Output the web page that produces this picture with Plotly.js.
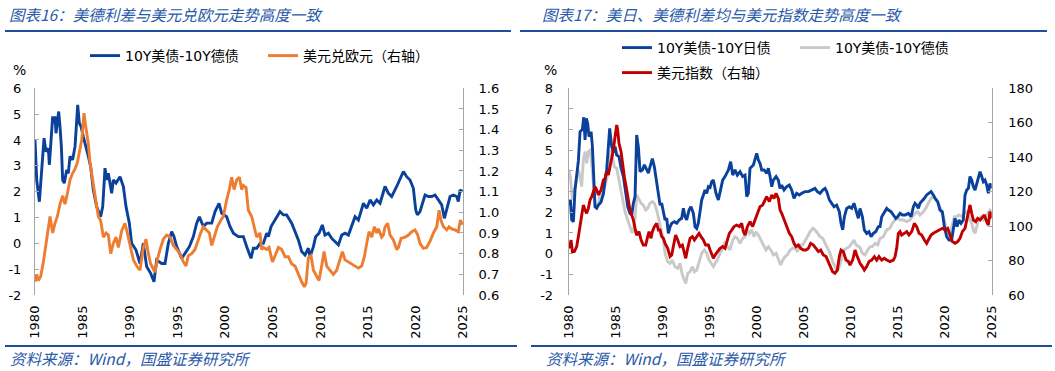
<!DOCTYPE html>
<html><head><meta charset="utf-8">
<script src="https://cdn.plot.ly/plotly-3.0.1.min.js"></script>
<style>html,body{margin:0;padding:0;background:#fff;} #chart{width:1055px;height:371px;}</style>
</head><body><div id="chart"></div>
<script>
// ---------- Left panel data ----------
const lYears = [1980.00,1980.18,1980.46,1980.81,1980.95,1981.16,1981.40,1981.51,1981.65,1981.75,1981.86,1982.00,1982.10,1982.21,1982.35,1982.49,1982.63,1982.77,1982.91,1983.08,1983.33,1983.50,1983.68,1983.96,1984.21,1984.49,1984.66,1984.84,1985.08,1985.36,1985.61,1985.85,1986.13,1986.48,1986.90,1987.12,1987.36,1987.54,1987.71,1988.06,1988.24,1988.52,1988.94,1989.29,1989.57,1989.92,1990.16,1990.62,1991.04,1991.39,1991.74,1992.16,1992.51,1992.79,1993.32,1993.67,1994.02,1994.37,1994.61,1994.90,1995.42,1995.77,1996.23,1996.65,1997.00,1997.28,1997.70,1998.05,1998.58,1998.93,1999.35,1999.63,2000.15,2000.50,2000.86,2001.38,2001.91,2002.26,2002.50,2002.71,2002.96,2003.31,2003.66,2004.01,2004.36,2004.54,2004.82,2005.24,2005.76,2006.11,2006.46,2006.99,2007.34,2007.69,2008.04,2008.39,2008.74,2008.92,2009.27,2009.51,2009.86,2010.21,2010.49,2010.85,2011.20,2011.55,2011.90,2012.25,2012.60,2012.95,2013.30,2013.65,2014.00,2014.53,2014.88,2015.23,2015.58,2015.93,2016.28,2016.80,2017.15,2017.50,2018.03,2018.38,2018.73,2019.08,2019.43,2019.78,2020.03,2020.20,2020.48,2021.01,2021.36,2021.71,2022.06,2022.41,2022.76,2023.04,2023.29,2023.64,2023.99,2024.34,2024.51,2024.69,2024.93];
const usDeSpread = [4.01,2.45,1.61,3.35,4.07,3.55,3.68,3.04,3.81,4.26,4.91,4.65,4.91,4.26,4.78,5.10,4.52,3.75,2.45,2.33,2.84,2.71,3.36,3.23,3.75,5.36,4.65,4.52,4.13,3.75,3.36,2.97,2.07,1.42,1.03,1.42,2.91,2.45,2.71,1.94,2.45,2.33,2.58,2.20,1.42,0.78,0.00,-0.26,-0.78,0.00,-0.90,-1.16,-1.49,-0.65,-0.78,-0.78,0.00,0.45,0.26,-0.13,-0.58,-0.39,-0.13,0.26,0.78,1.03,0.65,0.78,0.78,1.23,1.55,1.16,1.03,0.65,0.39,0.26,0.26,-0.13,-0.39,-0.58,-0.19,-0.19,0.00,0.00,0.39,0.26,0.65,0.90,1.23,1.10,1.10,0.78,0.45,0.13,-0.32,-0.45,-0.19,-0.52,-0.13,0.26,0.39,0.71,0.32,0.39,0.19,0.06,-0.06,0.32,0.39,0.32,0.65,1.03,0.90,1.55,1.36,1.68,1.49,1.68,1.55,2.20,1.94,1.81,2.20,2.52,2.78,2.58,2.45,2.13,1.29,1.10,1.23,1.87,1.81,1.81,1.87,1.68,1.49,0.97,1.29,1.81,1.87,1.81,1.62,2.07,2.00];

const eurYears = [1980.00,1980.18,1980.35,1980.60,1980.88,1981.16,1981.40,1981.58,1981.86,1982.10,1982.35,1982.63,1982.91,1983.15,1983.40,1983.68,1983.96,1984.21,1984.45,1984.73,1984.91,1985.01,1985.15,1985.29,1985.43,1985.61,1985.78,1986.06,1986.31,1986.66,1986.90,1987.19,1987.47,1987.71,1987.96,1988.24,1988.52,1988.76,1989.11,1989.46,1989.71,1989.99,1990.34,1990.69,1991.04,1991.39,1991.67,1991.92,1992.16,1992.62,1992.86,1993.14,1993.49,1993.84,1994.20,1994.55,1994.90,1995.25,1995.60,1995.88,1996.12,1996.47,1996.82,1997.17,1997.42,1997.70,1997.98,1998.33,1998.58,1998.82,1999.17,1999.52,1999.80,2000.15,2000.43,2000.68,2000.93,2001.21,2001.49,2001.73,2001.91,2002.19,2002.43,2002.78,2003.06,2003.31,2003.66,2003.83,2004.01,2004.36,2004.61,2004.96,2005.24,2005.59,2005.94,2006.29,2006.64,2006.99,2007.34,2007.69,2008.04,2008.32,2008.50,2008.74,2009.02,2009.27,2009.62,2009.86,2010.14,2010.39,2010.67,2011.02,2011.37,2011.72,2012.07,2012.32,2012.60,2012.95,2013.30,2013.65,2014.00,2014.35,2014.63,2014.88,2015.12,2015.40,2015.68,2015.93,2016.10,2016.45,2016.63,2016.80,2017.08,2017.33,2017.68,2018.03,2018.21,2018.49,2018.91,2019.26,2019.61,2019.96,2020.24,2020.48,2020.83,2021.18,2021.53,2021.89,2022.24,2022.48,2022.69,2022.94,2023.29,2023.53,2023.81,2024.16,2024.51,2024.72,2024.93];
const eurPerUsd = [0.664,0.70,0.67,0.69,0.76,0.85,0.947,0.98,0.90,0.947,0.98,1.04,1.08,1.04,1.09,1.157,1.19,1.21,1.24,1.30,1.35,1.40,1.48,1.43,1.38,1.33,1.24,1.157,1.06,0.98,0.96,0.88,0.90,0.89,0.80,0.85,0.88,0.83,0.91,0.947,0.90,0.834,0.77,0.74,0.72,0.83,0.87,0.80,0.75,0.71,0.77,0.82,0.87,0.89,0.88,0.84,0.82,0.80,0.76,0.74,0.79,0.80,0.82,0.87,0.90,0.93,0.915,0.90,0.84,0.88,0.93,0.96,0.98,1.06,1.11,1.17,1.11,1.157,1.17,1.11,1.13,1.12,1.01,0.98,0.93,0.88,0.90,0.82,0.83,0.82,0.83,0.76,0.79,0.83,0.82,0.785,0.785,0.75,0.74,0.70,0.664,0.64,0.656,0.78,0.79,0.72,0.69,0.67,0.74,0.81,0.74,0.72,0.70,0.72,0.77,0.81,0.77,0.76,0.75,0.74,0.73,0.74,0.785,0.85,0.906,0.88,0.93,0.90,0.92,0.88,0.89,0.93,0.947,0.89,0.866,0.82,0.83,0.874,0.88,0.89,0.906,0.915,0.89,0.85,0.826,0.83,0.86,0.90,0.93,1.01,0.96,0.93,0.915,0.93,0.92,0.915,0.906,0.963,0.94];

// ---------- Right panel data ----------
const jpYears = [1980.00,1980.18,1980.32,1980.50,1980.67,1980.85,1981.03,1981.21,1981.45,1981.60,1981.74,1981.88,1982.02,1982.16,1982.38,1982.52,1982.66,1982.80,1982.98,1983.16,1983.44,1983.69,1983.87,1984.04,1984.22,1984.36,1984.57,1984.75,1984.93,1985.11,1985.35,1985.57,1985.82,1985.99,1986.28,1986.52,1986.70,1986.88,1987.06,1987.23,1987.41,1987.59,1987.84,1988.05,1988.30,1988.48,1988.65,1988.90,1989.11,1989.33,1989.54,1989.72,1989.89,1990.07,1990.25,1990.43,1990.60,1990.78,1990.96,1991.24,1991.49,1991.74,1992.02,1992.20,1992.38,1992.55,1992.80,1993.01,1993.26,1993.44,1993.62,1993.79,1993.97,1994.15,1994.33,1994.50,1994.68,1994.86,1995.04,1995.21,1995.39,1995.67,1995.92,1996.10,1996.38,1996.63,1996.99,1997.23,1997.45,1997.69,1997.94,1998.23,1998.51,1998.76,1998.94,1999.11,1999.29,1999.65,2000.00,2000.18,2000.35,2000.53,2000.78,2001.06,2001.24,2001.42,2001.60,2001.77,2002.06,2002.30,2002.48,2002.66,2002.91,2003.19,2003.47,2003.72,2003.97,2004.25,2004.54,2004.79,2005.14,2005.50,2005.85,2006.20,2006.45,2006.74,2007.02,2007.27,2007.45,2007.73,2007.98,2008.23,2008.51,2008.79,2008.97,2009.15,2009.33,2009.57,2009.86,2010.11,2010.35,2010.64,2010.81,2010.99,2011.24,2011.45,2011.70,2011.95,2012.16,2012.41,2012.66,2012.94,2013.12,2013.30,2013.58,2013.83,2014.01,2014.29,2014.54,2014.79,2015.00,2015.25,2015.50,2015.78,2016.13,2016.42,2016.67,2016.84,2017.02,2017.20,2017.37,2017.55,2017.84,2018.08,2018.33,2018.55,2018.79,2018.97,2019.25,2019.50,2019.75,2019.96,2020.21,2020.46,2020.74,2020.92,2021.10,2021.31,2021.52,2021.74,2021.98,2022.16,2022.34,2022.52,2022.69,2022.87,2023.05,2023.23,2023.40,2023.58,2023.76,2023.94,2024.11,2024.29,2024.47,2024.64,2024.82,2025.00];
const usJpSpread = [2.35,2.60,1.63,1.55,3.08,3.90,4.50,5.90,6.00,6.60,5.50,6.55,6.30,5.66,5.90,5.20,3.90,2.27,2.20,2.35,2.50,2.90,3.56,4.05,5.18,6.06,5.20,4.90,5.18,4.77,4.70,4.13,3.73,3.08,2.27,1.95,1.87,2.44,2.76,5.74,5.18,3.97,4.05,4.30,4.05,3.90,4.20,4.60,4.20,3.56,3.08,2.35,2.44,2.11,1.63,1.71,0.98,1.30,1.47,1.55,1.47,1.63,1.71,2.20,1.79,1.63,2.11,2.27,1.95,1.30,1.22,1.47,2.11,2.60,2.84,3.08,2.92,3.24,3.20,3.48,3.56,2.92,2.60,2.92,3.56,3.73,4.05,4.45,3.80,4.05,3.80,3.97,3.73,3.80,2.76,2.92,4.13,4.29,4.85,4.53,4.37,4.05,4.05,3.89,4.13,3.73,3.24,3.56,3.73,3.56,3.16,3.32,3.08,3.24,3.32,3.08,2.68,2.92,2.84,2.92,3.00,3.00,3.08,3.16,3.00,2.92,3.08,3.16,3.00,2.60,2.43,2.27,2.35,2.03,1.47,1.15,1.79,2.19,2.27,2.19,2.44,2.03,1.71,2.19,1.79,1.15,0.98,1.06,0.82,0.98,1.06,1.31,1.31,1.79,2.03,2.19,2.11,2.03,1.87,1.71,1.79,1.95,1.87,1.87,1.95,1.79,2.27,2.44,2.35,2.19,2.44,2.52,2.68,2.84,2.92,3.00,2.84,2.68,2.52,2.11,2.03,1.31,0.82,0.66,0.66,1.15,1.71,1.31,1.63,1.47,1.63,2.84,3.08,3.16,3.73,3.56,3.24,3.08,3.40,3.65,3.97,3.73,3.48,3.56,3.32,2.92,3.40,3.16];

const deYears = [1980.00,1980.18,1980.39,1980.60,1980.85,1981.03,1981.21,1981.38,1981.56,1981.74,1981.91,1982.09,1982.27,1982.45,1982.62,1982.80,1982.98,1983.16,1983.33,1983.58,1983.79,1984.04,1984.29,1984.50,1984.68,1984.86,1985.11,1985.35,1985.57,1985.82,1985.99,1986.28,1986.52,1986.70,1986.88,1987.06,1987.23,1987.41,1987.70,1987.94,1988.19,1988.40,1988.65,1988.90,1989.11,1989.36,1989.61,1989.82,1990.07,1990.25,1990.53,1990.78,1991.03,1991.31,1991.60,1991.84,1992.09,1992.30,1992.45,1992.66,1992.91,1993.16,1993.37,1993.62,1993.87,1994.15,1994.43,1994.68,1994.93,1995.21,1995.39,1995.57,1995.81,1996.10,1996.38,1996.63,1996.88,1997.16,1997.45,1997.69,1997.94,1998.23,1998.51,1998.76,1999.01,1999.22,1999.47,1999.72,1999.93,2000.18,2000.42,2000.71,2000.99,2001.24,2001.49,2001.77,2002.06,2002.30,2002.55,2002.77,2003.01,2003.26,2003.55,2003.83,2004.08,2004.33,2004.61,2004.89,2005.14,2005.39,2005.67,2005.96,2006.20,2006.45,2006.74,2007.02,2007.27,2007.52,2007.80,2008.08,2008.33,2008.58,2008.79,2009.04,2009.29,2009.57,2009.86,2010.11,2010.35,2010.57,2010.81,2010.99,2011.24,2011.52,2011.81,2012.06,2012.30,2012.59,2012.87,2013.12,2013.47,2013.83,2014.18,2014.43,2014.72,2015.00,2015.25,2015.60,2015.96,2016.31,2016.56,2016.84,2017.13,2017.37,2017.73,2017.98,2018.26,2018.55,2018.79,2019.04,2019.33,2019.61,2019.86,2020.11,2020.39,2020.57,2020.74,2021.03,2021.28,2021.52,2021.81,2022.09,2022.34,2022.52,2022.69,2022.87,2023.05,2023.23,2023.40,2023.58,2023.86,2024.11,2024.36,2024.64,2024.82,2025.00];
const usDeSpread2 = [4.05,3.73,2.60,3.08,3.56,4.05,3.73,3.24,4.53,4.94,4.37,4.94,5.00,4.37,3.40,2.44,2.27,2.35,2.92,2.76,3.16,3.56,4.05,5.00,4.53,4.20,4.13,3.56,3.08,2.60,2.03,1.63,1.31,1.06,1.06,1.71,2.84,2.68,2.44,2.35,2.11,2.19,2.44,2.52,2.44,2.11,1.63,1.15,0.66,0.02,-0.39,-0.47,-0.31,-0.63,-0.71,-0.47,-1.03,-1.27,-1.44,-0.95,-0.87,-0.63,-0.87,-0.79,-0.39,0.02,0.18,0.02,-0.31,-0.47,-0.63,-0.47,-0.31,0.02,0.26,0.58,0.34,0.18,0.66,0.82,0.74,0.50,0.74,0.82,1.15,0.98,1.15,0.82,1.06,0.90,0.66,0.42,0.18,0.34,0.18,-0.06,0.02,-0.31,-0.55,-0.31,-0.15,-0.06,0.18,0.26,0.26,0.10,0.42,0.42,0.66,0.82,1.06,1.23,1.15,0.98,0.82,0.74,0.50,0.34,0.02,-0.39,-0.63,-0.87,-0.63,-0.15,0.18,0.26,0.34,0.50,0.66,0.42,0.34,0.30,0.02,-0.06,0.18,0.34,0.34,0.50,0.42,0.74,0.82,1.15,1.23,1.47,1.63,1.71,1.63,1.63,1.55,1.63,1.79,1.95,2.03,1.87,2.03,2.19,2.44,2.68,2.76,2.60,2.44,2.11,1.79,1.31,0.82,0.98,1.31,1.79,1.79,1.87,1.79,1.95,2.03,1.79,1.63,1.47,1.15,0.98,1.31,1.63,1.79,1.63,1.79,1.95,2.11,2.03];

const dxyYears = [1980.00,1980.14,1980.25,1980.39,1980.60,1980.85,1981.03,1981.21,1981.38,1981.56,1981.74,1981.91,1982.09,1982.27,1982.45,1982.62,1982.80,1982.98,1983.16,1983.44,1983.69,1983.87,1984.04,1984.22,1984.40,1984.57,1984.75,1984.93,1985.11,1985.21,1985.35,1985.57,1985.71,1985.92,1986.17,1986.35,1986.52,1986.70,1986.88,1987.06,1987.23,1987.48,1987.70,1987.94,1988.19,1988.40,1988.55,1988.76,1988.90,1989.11,1989.36,1989.54,1989.72,1989.89,1990.07,1990.25,1990.53,1990.78,1990.96,1991.13,1991.38,1991.60,1991.84,1992.09,1992.30,1992.45,1992.66,1992.91,1993.16,1993.37,1993.62,1993.87,1994.08,1994.33,1994.57,1994.86,1995.04,1995.21,1995.39,1995.57,1995.81,1996.10,1996.38,1996.63,1996.88,1997.09,1997.34,1997.59,1997.87,1998.16,1998.40,1998.58,1998.76,1999.01,1999.29,1999.57,1999.82,2000.07,2000.35,2000.64,2000.89,2001.06,2001.35,2001.60,2001.84,2002.06,2002.30,2002.48,2002.66,2002.91,2003.19,2003.47,2003.72,2003.97,2004.18,2004.43,2004.68,2004.96,2005.25,2005.50,2005.74,2006.03,2006.31,2006.56,2006.81,2007.09,2007.38,2007.62,2007.87,2008.08,2008.33,2008.58,2008.79,2008.97,2009.22,2009.50,2009.75,2009.93,2010.21,2010.46,2010.64,2010.81,2010.99,2011.24,2011.45,2011.70,2011.95,2012.23,2012.52,2012.77,2013.01,2013.30,2013.58,2013.83,2014.18,2014.54,2014.72,2014.89,2015.07,2015.25,2015.42,2015.71,2015.96,2016.20,2016.49,2016.77,2017.02,2017.27,2017.55,2017.84,2018.08,2018.26,2018.55,2018.79,2019.15,2019.50,2019.75,2020.03,2020.32,2020.57,2020.81,2021.10,2021.38,2021.63,2021.88,2022.16,2022.45,2022.69,2022.87,2023.05,2023.30,2023.51,2023.76,2024.01,2024.22,2024.47,2024.64,2024.82,2025.00];
const dollarIndex = [87.1,89.0,91.9,85.2,85.2,88.1,93.9,99.7,107.4,112.3,109.4,107.4,110.3,115.2,117.1,120.0,122.9,121.0,118.1,121.0,126.8,127.7,131.6,129.7,134.5,138.4,144.2,151.9,158.7,155.8,148.1,143.2,136.5,128.7,121.0,114.2,109.4,106.5,103.5,98.7,94.8,96.8,91.9,89.0,89.0,93.9,96.8,92.9,96.8,99.7,101.6,97.7,97.7,93.9,92.9,90.0,87.1,82.3,83.2,88.1,94.8,91.9,88.1,89.0,85.2,81.3,87.1,92.9,93.9,91.9,93.9,95.8,93.9,91.9,89.0,89.0,86.1,84.2,81.3,83.2,85.2,87.1,88.1,87.1,91.9,95.8,97.7,99.7,100.6,99.7,101.6,96.8,94.8,99.7,102.6,99.7,103.5,107.4,111.3,112.3,115.2,117.1,114.2,118.1,116.1,119.0,116.1,109.4,107.4,103.5,99.7,95.8,93.9,90.0,88.1,89.0,87.1,86.1,86.1,87.1,90.0,89.0,87.1,85.2,86.1,83.2,82.3,79.4,76.5,73.5,72.6,74.5,82.3,86.1,85.2,80.3,79.4,77.4,80.3,86.1,83.2,80.3,78.4,76.5,74.5,76.5,79.4,80.3,82.3,80.3,82.3,80.3,81.3,80.3,79.4,80.3,82.3,87.1,95.8,96.8,94.8,95.8,96.8,94.8,96.8,101.6,99.7,95.8,94.8,91.9,90.0,91.9,94.8,95.8,96.8,97.7,98.7,97.7,98.7,94.8,91.0,90.0,91.0,92.9,96.8,98.7,105.5,112.3,107.4,103.5,102.6,104.5,103.5,105.5,106.5,102.6,100.6,108.4,104.5];

// ---------- Ticks & labels ----------
const yearTicks = [1980,1985,1990,1995,2000,2005,2010,2015,2020,2025];
const yearLabels = ['1980','1985','1990','1995','2000','2005','2010','2015','2020','2025'];
const lSpreadTicks = [-2,-1,0,1,2,3,4,5,6];
const lSpreadLabels = ['-2','-1','0','1','2','3','4','5','6'];
const eurTicks = [0.6,0.7,0.8,0.9,1.0,1.1,1.2,1.3,1.4,1.5,1.6];
const eurLabels = ['0.6','0.7','0.8','0.9','1.0','1.1','1.2','1.3','1.4','1.5','1.6'];
const rSpreadTicks = [-2,-1,0,1,2,3,4,5,6,7,8];
const rSpreadLabels = ['-2','-1','0','1','2','3','4','5','6','7','8'];
const dxyTicks = [60,80,100,120,140,160,180];
const dxyLabels = ['60','80','100','120','140','160','180'];

const names = {
  usDe: '10Y美债-10Y德债',
  eur: '美元兑欧元（右轴）',
  usJp: '10Y美债-10Y日债',
  dxy: '美元指数（右轴）'
};
const titles = ['图表16：美德利差与美元兑欧元走势高度一致', '图表17：美日、美德利差均与美元指数走势高度一致'];
const sourceText = '资料来源：Wind，国盛证券研究所';

// ---------- Styles ----------
const W = 1055, H = 371;
const BLUE = '#0A419B', ORANGE = '#EE7D31', GRAY = '#C9C9C9', RED = '#C00000';
const AX = '#A6A6A6';
const TXTBLUE = '#2A5AA8', RULE = '#1F4E9C';
const tickFont = {family: 'DejaVu Sans, Noto Sans CJK SC, sans-serif', size: 13, color: '#000'};
const legFont = {family: 'DejaVu Sans, Noto Sans CJK SC, sans-serif', size: 14, color: '#000'};
const px = v => v / W, py = v => 1 - v / H;

const yDom = [py(295), py(88.3)];
const lDom = [px(35), px(463)];
const rDom = [px(568.7), px(991.7)];
const LW = 2.9;

const traces = [
  {x: lYears, y: usDeSpread, name: names.usDe, type: 'scatter', mode: 'lines', line: {color: BLUE, width: LW}, xaxis: 'x', yaxis: 'y', legend: 'legend'},
  {x: eurYears, y: eurPerUsd, name: names.eur, type: 'scatter', mode: 'lines', line: {color: ORANGE, width: LW}, xaxis: 'x', yaxis: 'y2', legend: 'legend2'},
  {x: deYears, y: usDeSpread2, name: names.usDe, type: 'scatter', mode: 'lines', line: {color: GRAY, width: LW}, xaxis: 'x2', yaxis: 'y3', legend: 'legend4'},
  {x: jpYears, y: usJpSpread, name: names.usJp, type: 'scatter', mode: 'lines', line: {color: BLUE, width: LW}, xaxis: 'x2', yaxis: 'y3', legend: 'legend3'},
  {x: dxyYears, y: dollarIndex, name: names.dxy, type: 'scatter', mode: 'lines', line: {color: RED, width: LW}, xaxis: 'x2', yaxis: 'y4', legend: 'legend5'}
];

function xBottom(dom, anchor) {
  return {domain: dom, anchor: anchor, range: [1980, 2025], tickmode: 'array', tickvals: yearTicks, ticktext: yearLabels,
    tickangle: -90, ticks: '', showline: false, showgrid: false, zeroline: false, tickfont: tickFont, ticklabelstandoff: 7, fixedrange: true};
}
function xZero(over, pos) {
  return {overlaying: over, anchor: 'free', position: pos, range: [1980, 2025], tickmode: 'array', tickvals: yearTicks,
    showticklabels: false, ticks: 'inside', ticklen: 4, tickcolor: AX, showline: true, linecolor: AX, linewidth: 1,
    showgrid: false, zeroline: false};
}
function yAx(opts) {
  return Object.assign({domain: yDom, showline: true, linecolor: AX, linewidth: 1, ticks: 'inside', ticklen: 4, tickcolor: AX,
    showgrid: false, zeroline: false, tickfont: tickFont, tickmode: 'array', ticklabelstandoff: 10, fixedrange: true}, opts);
}
function leg(x, y) {
  return {x: px(x - 5), y: py(y), xanchor: 'left', yanchor: 'middle', orientation: 'h', font: legFont,
    bgcolor: 'rgba(0,0,0,0)', borderwidth: 0, itemwidth: 30, itemclick: false, itemdoubleclick: false};
}
function note(text, x, y, size, opts) {
  return Object.assign({text: text, x: px(x), y: py(y), xref: 'paper', yref: 'paper', xanchor: 'left', yanchor: 'middle',
    showarrow: false, font: {family: 'Noto Sans CJK SC, DejaVu Sans, sans-serif', size: size, color: '#000'}}, opts || {});
}
function rule(x0, x1, y) {
  return {type: 'line', xref: 'paper', yref: 'paper', x0: px(x0), x1: px(x1), y0: py(y), y1: py(y), line: {color: RULE, width: 2}};
}

const italicBlue = s => ({family: 'Noto Sans CJK SC, DejaVu Sans, sans-serif', size: s, color: TXTBLUE, style: 'italic'});

const layout = {
  width: W, height: H, margin: {l: 0, r: 0, t: 0, b: 0}, paper_bgcolor: '#fff', plot_bgcolor: 'rgba(0,0,0,0)',
  showlegend: true,
  xaxis: xBottom(lDom, 'y'),
  xaxis2: xBottom(rDom, 'y3'),
  xaxis3: xZero('x', py(243.3)),
  xaxis4: xZero('x2', py(253.3)),
  yaxis: yAx({anchor: 'x', range: [-2, 6], tickvals: lSpreadTicks, ticktext: lSpreadLabels}),
  yaxis2: yAx({anchor: 'x', overlaying: 'y', side: 'right', range: [0.6, 1.6], tickvals: eurTicks, ticktext: eurLabels, ticklabelstandoff: 12}),
  yaxis3: yAx({anchor: 'x2', range: [-2, 8], tickvals: rSpreadTicks, ticktext: rSpreadLabels, ticklabelstandoff: 12}),
  yaxis4: yAx({anchor: 'x2', overlaying: 'y3', side: 'right', range: [60, 180], tickvals: dxyTicks, ticktext: dxyLabels, ticklabelstandoff: 13}),
  legend: leg(90, 56),
  legend2: leg(268, 56),
  legend3: leg(622, 48),
  legend4: leg(800, 48),
  legend5: leg(622, 73),
  annotations: [
    note(titles[0], 7, 14, 15.5, {font: italicBlue(15.5)}),
    note(titles[1], 540, 14, 15.5, {font: italicBlue(15.5)}),
    note('%', 11, 70, 14, {font: {family: 'DejaVu Sans, sans-serif', size: 14, color: '#000'}}),
    note('%', 542, 70, 14, {font: {family: 'DejaVu Sans, sans-serif', size: 14, color: '#000'}}),
    note(sourceText, 8, 358, 15.5, {font: italicBlue(15.5)}),
    note(sourceText, 544, 358, 15.5, {font: italicBlue(15.5)})
  ],
  shapes: [rule(5, 511, 31), rule(520, 1047, 31), rule(5, 517, 346), rule(531, 1052, 346)]
};

Plotly.newPlot('chart', traces, layout, {staticPlot: true, displayModeBar: false});
</script></body></html>
